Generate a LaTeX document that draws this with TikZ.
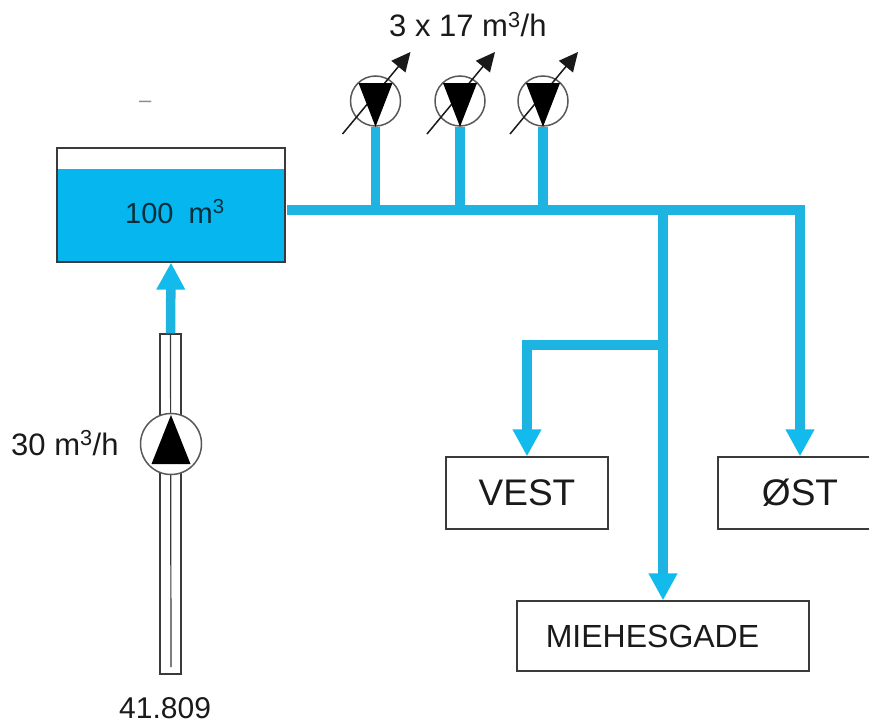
\documentclass[tikz,border=0pt]{standalone}
\usepackage{fontspec}
\setmainfont{Liberation Sans}
\usetikzlibrary{arrows.meta,calc}
\definecolor{pipe}{HTML}{1DB4E2}
\definecolor{headc}{HTML}{12BBEC}
\definecolor{water}{HTML}{05B7EE}
\definecolor{ink}{HTML}{3A3A3A}
\definecolor{txt}{HTML}{1A1A1A}
\tikzset{
  pipeline/.style={draw=pipe,line width=9.5pt,line cap=butt,line join=miter},
  flow/.style={pipeline,-{Triangle[length=27pt,width=27pt,fill=headc,color=headc]}},
  boxnode/.style={draw=ink,line width=1.2pt,fill=white,inner sep=0pt,text=txt},
  label/.style={inner sep=0pt,text=txt,anchor=base west},
  pumpring/.style={circle,draw=ink!85,line width=1.5pt,fill=white,inner sep=0pt},
  pumpblade/.style={fill=black,draw=none},
  regarrow/.style={draw=black!90,line width=1.5pt,-{Triangle[length=19pt,width=18pt]}},
  thinline/.style={draw=ink,line width=1.2pt}
}
\begin{document}
\begin{tikzpicture}[x=1pt,y=-1pt]
\useasboundingbox[fill=white] (0,0) rectangle (869,725);
% well
\node[boxnode,minimum width=21pt,minimum height=340pt] (well) at (170.5,504) {};
\coordinate (wellend) at (171,667);
\draw[thinline] (well.north) -- (wellend);
% boxes
\node[boxnode,minimum width=162pt,minimum height=72pt,font=\fontsize{37}{40}\selectfont] (vest) at (527,493) {VEST};
\node[boxnode,minimum width=154pt,minimum height=72pt,font=\fontsize{37}{40}\selectfont] (ost) at (795,493) {\hspace*{10pt}ØST};
\node[boxnode,minimum width=292pt,minimum height=70pt,font=\fontsize{32}{35}\selectfont] (mie) at (663,636) {MIEHESGADE\hspace*{21pt}};
% tank
\node[fill=water,inner sep=0pt,minimum width=228pt,minimum height=93pt] (water) at (171,215.5) {};
\node[draw=ink,line width=1.2pt,inner sep=0pt,minimum width=228pt,minimum height=114pt] (tank) at (171,205) {};
\node[label,text=black!75!water,font=\fontsize{29}{32}\selectfont] (tanklabel) at (125,223) {100\hspace{7pt} m\textsuperscript{3}};
% main pipe
\coordinate (mainstart) at (287,210);
\coordinate (maincorner) at (800,210);
\coordinate (trunk) at (663,210);
\coordinate (branch) at (663,345);
\coordinate (branchcorner) at (527,345);
\draw[pipeline] (mainstart) -- ($(maincorner)+(4.75,0)$) ;
\draw[flow] (maincorner) ++(0,-4.75) -- (maincorner |- ost.north);
\draw[flow] (trunk) -- (trunk |- mie.north);
\draw[flow] (branch) -- (branchcorner) -- (vest.north);
% pumps on the header
\foreach \n/\x in {a/375.5,b/460,c/543}{
  \node[pumpring,minimum size=50pt] (p\n) at (\x,101) {};
  \coordinate (arr\n s) at ($(p\n.center)+(-33,33)$);
  \coordinate (arr\n e) at ($(p\n.center)+(35,-49)$);
  \draw[regarrow] (arr\n s) -- (arr\n e);
  \fill[pumpblade] ($(p\n.center)+(-17,-18)$) -- ($(p\n.center)+(17,-18)$) -- (p\n.south) -- cycle;
  \draw[pipeline] (p\n.south) -- (p\n.south |- mainstart);
}
% lift from well
\draw[flow] (well.north) -- (tank.south);
% well pump
\node[pumpring,minimum size=61pt] (wp) at (171,444) {};
\fill[pumpblade] (171,415) -- (190.5,464) -- (151.5,464) -- cycle;
% labels
\node[label,font=\fontsize{31}{33}\selectfont] (flowtop) at (389,37) {3 x 17 m\textsuperscript{3}/h};
\node[label,font=\fontsize{31}{33}\selectfont] (flowleft) at (11,455) {30 m\textsuperscript{3}/h};
\node[label,font=\fontsize{30}{32}\selectfont] (depth) at (119,718.5) {41.809};
\node[label,text=black!45,font=\fontsize{22}{24}\selectfont] (dash) at (139,107) {–};
\end{tikzpicture}
\end{document}
